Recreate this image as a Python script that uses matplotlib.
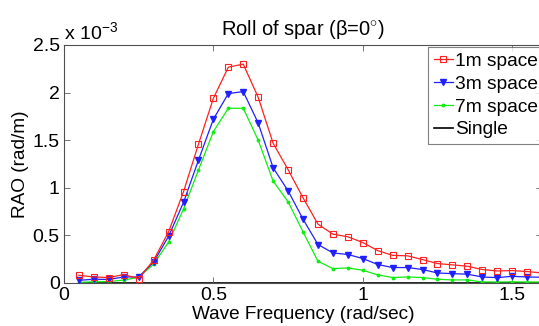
import matplotlib
matplotlib.use("Agg")
import matplotlib.pyplot as plt
from matplotlib.ticker import FixedLocator, FuncFormatter

plt.rcParams['font.family'] = ['Liberation Sans', 'DejaVu Sans']
plt.rcParams['mathtext.fontset'] = 'custom'
plt.rcParams['mathtext.rm'] = 'Liberation Sans'

# Wave frequency (rad/sec)
freq = [0.05, 0.10, 0.15, 0.20, 0.25, 0.30, 0.35, 0.40, 0.45, 0.50,
        0.55, 0.60, 0.65, 0.70, 0.75, 0.80, 0.85, 0.90, 0.95, 1.00,
        1.05, 1.10, 1.15, 1.20, 1.25, 1.30, 1.35, 1.40, 1.45, 1.50,
        1.55, 1.60]

# Roll RAO, in units of 1e-3 rad/m
rao_1m = [0.081, 0.063, 0.057, 0.088, 0.046, 0.240, 0.537, 0.958, 1.457, 1.940,
          2.267, 2.299, 1.950, 1.467, 1.190, 0.895, 0.618, 0.513, 0.485, 0.425,
          0.340, 0.290, 0.285, 0.246, 0.204, 0.190, 0.176, 0.141, 0.126, 0.130,
          0.120, 0.105]
rao_3m = [0.028, 0.039, 0.037, 0.063, 0.063, 0.220, 0.490, 0.846, 1.290, 1.720,
          1.990, 2.010, 1.680, 1.210, 0.968, 0.670, 0.404, 0.316, 0.299, 0.257,
          0.194, 0.162, 0.162, 0.141, 0.105, 0.098, 0.092, 0.063, 0.056, 0.070,
          0.063, 0.060]
rao_7m = [0.007, 0.012, 0.015, 0.030, 0.060, 0.197, 0.430, 0.776, 1.186, 1.590,
          1.835, 1.835, 1.500, 1.070, 0.853, 0.537, 0.228, 0.151, 0.158, 0.134,
          0.085, 0.057, 0.063, 0.057, 0.039, 0.032, 0.032, 0.011, 0.010, 0.012,
          0.010, 0.010]
rao_single = [0.0] * len(freq)

series_labels = ['1m space', '3m space', '7m space', 'Single']

fig = plt.figure(figsize=(5.39, 3.26), dpi=100)
ax = fig.add_axes([0.1187, 0.132, 0.887, 0.730])

h_single, = ax.plot(freq, rao_single, color='black', lw=1.2, zorder=1)
h_1m, = ax.plot(freq, rao_1m, color='#ff2020', lw=0.9, marker='s', ms=4.0,
                mfc='none', mec='#ff2020', mew=0.8, zorder=4)
h_3m, = ax.plot(freq, rao_3m, color='#2020ff', lw=0.9, marker='v', ms=4.5,
                mfc='#2020ff', mec='#2020ff', zorder=3)
h_7m, = ax.plot(freq, rao_7m, color='#10ee10', lw=0.9, marker='.', ms=3.5,
                mfc='#10ee10', mec='#10ee10', zorder=2)

ax.set_xlim(0, 1.6)
ax.set_ylim(0, 2.5)
ax.xaxis.set_major_locator(FixedLocator([0, 0.5, 1.0, 1.5]))
ax.yaxis.set_major_locator(FixedLocator([0, 0.5, 1.0, 1.5, 2.0, 2.5]))
fmt = FuncFormatter(lambda v, p: '%g' % v)
ax.xaxis.set_major_formatter(fmt)
ax.yaxis.set_major_formatter(fmt)
ax.tick_params(direction='in', length=4, width=0.6, color='#606060',
               labelsize=14, top=True, right=True, pad=3)
for s in ax.spines.values():
    s.set_color('#505050')
    s.set_linewidth(0.8)

ax.set_xlabel('Wave Frequency (rad/sec)', fontsize=13.7, labelpad=1)
ax.set_ylabel('RAO (rad/m)', fontsize=13.7, labelpad=3)
ax.set_title(r'Roll of spar ($\mathregular{\beta}$=0$^{\circ}$)', fontsize=14.5, pad=7)
ax.text(0.0, 1.005, r'x 10$^{-3}$', transform=ax.transAxes, fontsize=14,
        ha='left', va='bottom')

leg = ax.legend([h_1m, h_3m, h_7m, h_single], series_labels,
                loc='upper left', bbox_to_anchor=(0.7615, 0.992), fontsize=13.8,
                frameon=True, fancybox=False, handlelength=1.0, handletextpad=0.1,
                borderpad=0.3, labelspacing=0.28, borderaxespad=0.0)
leg.get_frame().set_edgecolor('#606060')
leg.get_frame().set_linewidth(0.8)

fig.savefig('out.png', dpi=100)
